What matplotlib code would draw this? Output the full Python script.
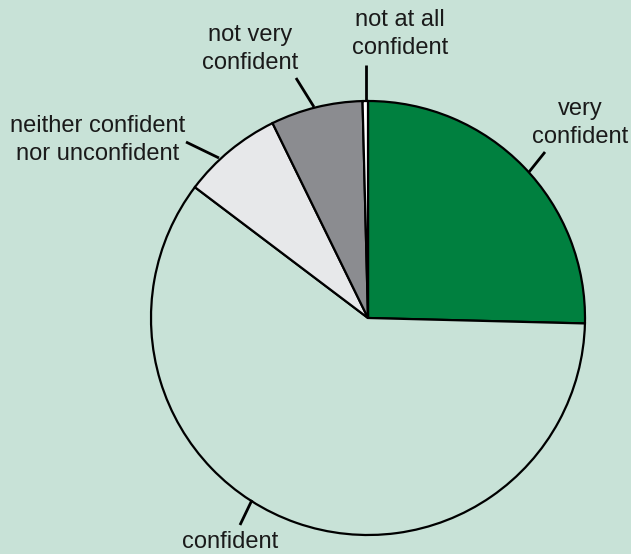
import matplotlib
matplotlib.use("Agg")
import matplotlib.pyplot as plt
import numpy as np

# Data (percent shares, clockwise from 12 o'clock)
categories = ["very\nconfident", "confident", "neither confident\nnor unconfident",
              "not very\nconfident", "not at all\nconfident"]
values = [25.4, 59.9, 7.45, 6.85, 0.4]
colors = ["#00803f", "#c8e2d7", "#e7e8ea", "#8b8c90", "#ffffff"]

W, H = 631, 554
BG = "#c8e2d7"

fig = plt.figure(figsize=(W / 100, H / 100), dpi=100, facecolor=BG)
ax = fig.add_axes([0, 0, 1, 1])
ax.set_facecolor(BG)

def P(x, y):
    # pixel (top-left origin) -> data coords
    return (x, H - y)

cx, cy = P(368, 318)
ax.pie(values, colors=colors, startangle=90, counterclock=False,
       center=(cx, cy), radius=217, frame=True,
       wedgeprops=dict(edgecolor="black", linewidth=1.6))
ax.set_xlim(0, W)
ax.set_ylim(0, H)
ax.set_aspect("equal")
ax.axis("off")

# label layout: (text center px, leader inner px, leader outer px)
layout = [
    ((580, 123), (529, 172), (545, 152)),
    ((230, 542), (252, 500), (240, 525)),
    ((98, 140), (219, 158), (186, 142)),
    ((250, 49), (314, 107), (296, 78)),
    ((400, 34), (366, 100), (366, 65)),
]
for lab, (tc, li, lo) in zip(categories, layout):
    ax.text(*P(*tc), lab, ha="center", va="center", fontsize=17,
            family=["Liberation Sans", "DejaVu Sans"], linespacing=1.4,
            color="#1a1a1a")
    (x1, y1), (x2, y2) = P(*li), P(*lo)
    ax.plot([x1, x2], [y1, y2], color="black", linewidth=2, solid_capstyle="butt")

fig.savefig("out.png", dpi=100, facecolor=BG)
